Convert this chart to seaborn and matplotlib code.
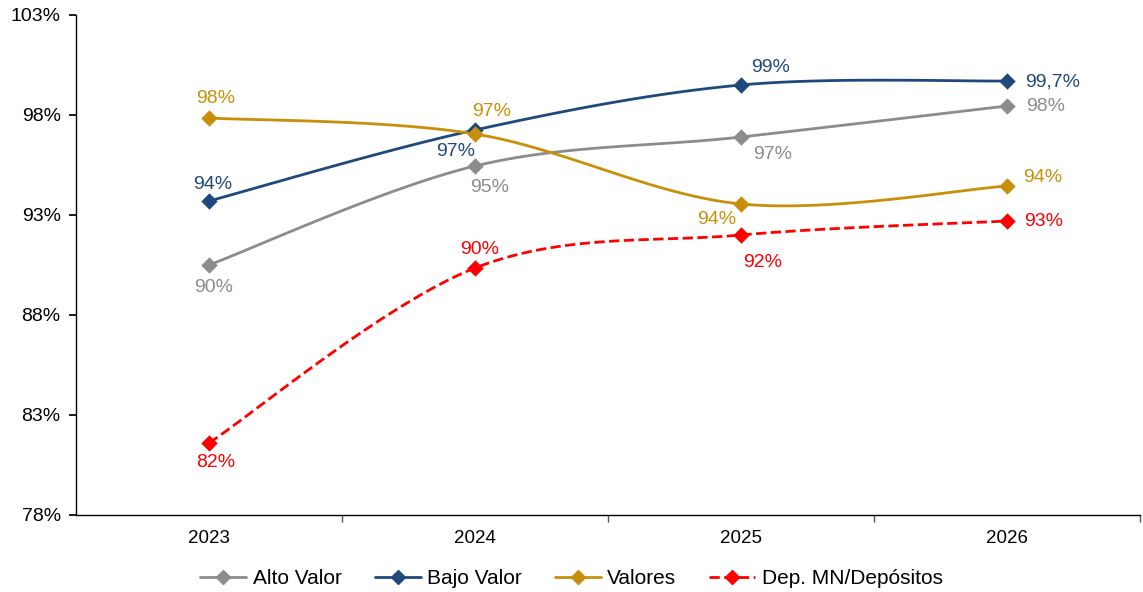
import numpy as np
import pandas as pd
import matplotlib
matplotlib.use("Agg")
import matplotlib.pyplot as plt
from matplotlib.lines import Line2D
import seaborn as sns

years = ["2023", "2024", "2025", "2026"]
alto_valor = [90.5, 95.45, 96.9, 98.45]
bajo_valor = [93.7, 97.25, 99.5, 99.7]
valores = [97.85, 97.05, 93.55, 94.45]
dep_mn = [81.6, 90.35, 92.0, 92.7]

alto_labels = ["90%", "95%", "97%", "98%"]
bajo_labels = ["94%", "97%", "99%", "99,7%"]
valores_labels = ["98%", "97%", "94%", "94%"]
dep_labels = ["82%", "90%", "92%", "93%"]

series = [
    ("Alto Valor", alto_valor, alto_labels, "#8C8C8C", "-",
     [(5, -23), (15, -22), (32, -18), (38, -1)]),
    ("Bajo Valor", bajo_valor, bajo_labels, "#1F497D", "-",
     [(4, 16), (-19, -22), (29, 17), (45, -1)]),
    ("Valores", valores, valores_labels, "#C8900A", "-",
     [(7, 19), (17, 22), (-24, -16), (36, 8)]),
    ("Dep. MN/Depósitos", dep_mn, dep_labels, "#FF0000", "--",
     [(7, -20), (5, 18), (22, -28), (36, -1)]),
]


def smooth(xs, ys, n=40):
    # excel-style smoothed line (bezier through the points)
    p = np.column_stack([xs, ys]).astype(float)
    ext = np.vstack([p[0], p, p[-1]])
    out = []
    t = np.linspace(0, 1, n)[:, None]
    for i in range(len(p) - 1):
        p0, p1 = ext[i + 1], ext[i + 2]
        c1 = p0 + (ext[i + 2] - ext[i]) / 6
        c2 = p1 - (ext[i + 3] - ext[i + 1]) / 6
        seg = ((1 - t) ** 3) * p0 + 3 * ((1 - t) ** 2) * t * c1 + 3 * (1 - t) * t ** 2 * c2 + t ** 3 * p1
        out.append(seg if i == 0 else seg[1:])
    out = np.vstack(out)
    return out[:, 0], out[:, 1]


sns.set_theme(style="white")
plt.rcParams["font.family"] = ["Liberation Sans", "DejaVu Sans"]
plt.rcParams["text.color"] = "black"

fig = plt.figure(figsize=(11.43, 5.92), dpi=100)
ax = fig.add_axes([0.0665, 0.1301, 0.931, 0.8446])

xpos = np.arange(len(years))
handles = []
for name, vals, labs, color, ls, offs in series:
    sx, sy = smooth(xpos, vals)
    curve = pd.DataFrame({"x": sx, "y": sy})
    sns.lineplot(data=curve, x="x", y="y", sort=False, color=color, linestyle=ls,
                 linewidth=2, ax=ax, legend=False)
    pts = pd.DataFrame({"x": xpos, "y": vals})
    sns.scatterplot(data=pts, x="x", y="y", marker="D", s=70, color=color,
                    edgecolor=color, linewidth=0, ax=ax, legend=False, zorder=3)
    for x, v, lab, off in zip(xpos, vals, labs, offs):
        ax.annotate(lab, (x, v), xytext=off, textcoords="offset pixels",
                    ha="center", va="center", color=color, fontsize=14)
    handles.append(Line2D([0], [0], color=color, linestyle=ls, linewidth=2,
                          marker="D", markersize=7, label=name))

ax.set_xlim(-0.5, 3.5)
ax.set_ylim(78, 103)
ax.set_yticks([78, 83, 88, 93, 98, 103])
ax.set_yticklabels([f"{t}%" for t in [78, 83, 88, 93, 98, 103]], fontsize=14)
ax.set_xticks(xpos)
ax.set_xticklabels(years, fontsize=13.5)
ax.set_xticks([0.5, 1.5, 2.5, 3.5], minor=True)
ax.tick_params(axis="x", which="major", length=0, pad=11, labelcolor="black")
ax.tick_params(axis="x", which="minor", length=5, color="#555555", direction="out", bottom=True)
ax.tick_params(axis="y", length=5, color="black", direction="out", left=True, pad=6,
               labelcolor="black")
ax.set_xlabel("")
ax.set_ylabel("")

for side in ["top", "right"]:
    ax.spines[side].set_visible(False)
for side in ["left", "bottom"]:
    ax.spines[side].set_color("black")
    ax.spines[side].set_linewidth(1)

leg = fig.legend(handles=handles, loc="center", bbox_to_anchor=(0.5, 0.022), ncol=4,
                 frameon=False, fontsize=15, handlelength=2.2, columnspacing=1.6,
                 handletextpad=0.3)
for txt in leg.get_texts():
    txt.set_color("black")

fig.savefig("out.png", dpi=100)
